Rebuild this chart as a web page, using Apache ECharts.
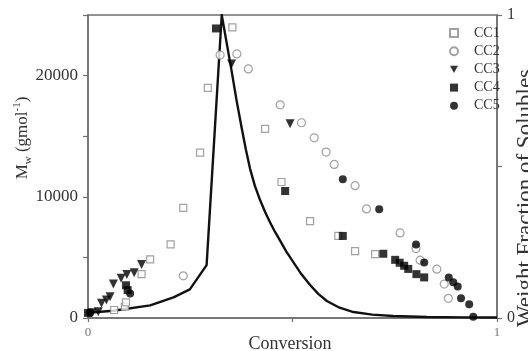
<!DOCTYPE html>
<html>
<head>
<meta charset="utf-8">
<script src="https://cdn.jsdelivr.net/npm/echarts@6/dist/echarts.min.js"></script>
<style>
html,body{margin:0;padding:0;background:#fff;}
#chart{width:528px;height:351px;}
</style>
</head>
<body>
<div id="chart"></div>
<script>
// ---- data ----
const seriesNames = ['CC1', 'CC2', 'CC3', 'CC4', 'CC5'];

const cc1X = [0.064, 0.090, 0.093, 0.131, 0.152, 0.202, 0.233, 0.274, 0.293, 0.353, 0.433, 0.473, 0.543, 0.612, 0.653, 0.702];
const cc1Y = [660, 930, 1290, 3620, 4830, 6070, 9080, 13640, 18990, 23980, 15610, 11220, 8000, 6770, 5510, 5270];

const cc2X = [0.233, 0.323, 0.364, 0.392, 0.470, 0.522, 0.553, 0.582, 0.602, 0.653, 0.681, 0.763, 0.802, 0.812, 0.853, 0.871, 0.881];
const cc2Y = [3480, 21700, 21790, 20550, 17590, 16110, 14870, 13690, 12670, 10920, 9000, 7020, 5730, 4770, 4030, 2800, 1620];

const cc3X = [0.010, 0.025, 0.033, 0.045, 0.054, 0.062, 0.081, 0.095, 0.113, 0.131, 0.351, 0.494];
const cc3Y = [430, 520, 1210, 1480, 1750, 2800, 3270, 3580, 3730, 4420, 20960, 16020];

const cc4X = [0.000, 0.093, 0.097, 0.313, 0.482, 0.623, 0.722, 0.751, 0.762, 0.773, 0.783, 0.803, 0.822];
const cc4Y = [420, 2700, 2300, 23890, 10480, 6770, 5300, 4800, 4560, 4310, 4050, 3620, 3350];

const cc5X = [0.005, 0.103, 0.623, 0.712, 0.802, 0.822, 0.882, 0.893, 0.904, 0.912, 0.932, 0.942];
const cc5Y = [430, 2030, 11440, 8970, 6060, 4580, 3350, 2950, 2600, 1620, 1130, 110];

// theory curve
const curveX = [0, 0.062, 0.152, 0.209, 0.249, 0.290, 0.327, 0.339, 0.351, 0.363, 0.376, 0.386, 0.396, 0.408, 0.421, 0.433, 0.445, 0.457, 0.469, 0.485, 0.502, 0.522, 0.543, 0.563, 0.584, 0.615, 0.649, 0.695, 0.746, 0.829, 0.920, 1.0];
const curveY = [436, 600, 1045, 1700, 2360, 4360, 25000, 22700, 20410, 18000, 15640, 13900, 12350, 10900, 9710, 8750, 7900, 7120, 6420, 5480, 4610, 3600, 2720, 1990, 1400, 850, 490, 280, 165, 80, 55, 40];

const xTickLabels = {0: '0', 1: '1'};
const yTickLabels = {0: '0', 10000: '10000', 20000: '20000'};
const y2TickLabels = {0: '0', 1: '1'};

// ---- build ----
function pairs(xs, ys) { return xs.map((x, i) => [x, ys[i]]); }

const FONT = 'Liberation Serif';
const AX = '#6f6f6f';

const openStyle = { color: '#ffffff', borderColor: '#8a8a8a', borderWidth: 1.2 };
const fillStyle = { color: '#000000' };

const chart = echarts.init(document.getElementById('chart'), null, { renderer: 'canvas' });

chart.setOption({
  animation: false,
  backgroundColor: '#ffffff',
  textStyle: { fontFamily: FONT },
  grid: { left: 88, right: 31, top: 15, bottom: 33, show: true, borderColor: AX, borderWidth: 1.5, backgroundColor: 'transparent' },
  legend: {
    orient: 'vertical',
    left: 444,
    top: 20,
    itemWidth: 8,
    itemHeight: 8,
    itemGap: 2.2,
    textStyle: { fontFamily: FONT, fontSize: 14, color: '#333', lineHeight: 16, padding: [0, 0, 0, 11] },
    data: seriesNames.map(n => n === 'CC3' ? { name: n, icon: 'path://M0,0L10,0L5,9Z' } : { name: n })
  },
  xAxis: {
    type: 'value', min: 0, max: 1, interval: 0.5,
    axisLine: { lineStyle: { color: AX, width: 1.5 } },
    axisTick: { length: 4, lineStyle: { color: AX, width: 1.2 } },
    splitLine: { show: false },
    axisLabel: { fontFamily: FONT, fontSize: 13, color: '#777', margin: 8,
      formatter: v => (xTickLabels[v] !== undefined ? xTickLabels[v] : '') }
  },
  yAxis: [{
    type: 'value', min: 0, max: 25000, interval: 5000,
    axisLine: { show: true, lineStyle: { color: AX, width: 1.5 } },
    axisTick: { show: true, length: 5, lineStyle: { color: AX, width: 1.2 } },
    splitLine: { show: false },
    axisLabel: { fontFamily: FONT, fontSize: 17, color: '#333', margin: 10,
      formatter: v => (yTickLabels[v] !== undefined ? yTickLabels[v] : '') }
  }, {
    type: 'value', min: 0, max: 1, interval: 0.5, position: 'right',
    axisLine: { show: true, lineStyle: { color: AX, width: 1.5 } },
    axisTick: { show: true, length: 5, lineStyle: { color: AX, width: 1.2 } },
    splitLine: { show: false },
    axisLabel: { fontFamily: FONT, fontSize: 16, color: '#333', margin: 10,
      formatter: v => (y2TickLabels[v] !== undefined ? y2TickLabels[v] : '') }
  }],
  graphic: [
    {
      type: 'text', x: 23, y: 138, rotation: Math.PI / 2,
      style: {
        text: '{m|M}{sub|w}{m| (gmol}{sup|-1}{m|)}',
        textAlign: 'center', textVerticalAlign: 'middle',
        fill: '#333',
        rich: {
          m: { fontFamily: FONT, fontSize: 17, lineHeight: 22, verticalAlign: 'middle', fill: '#333' },
          sub: { fontFamily: FONT, fontSize: 11, lineHeight: 22, verticalAlign: 'bottom', fill: '#333' },
          sup: { fontFamily: FONT, fontSize: 11, lineHeight: 22, verticalAlign: 'top', fill: '#333' }
        }
      }
    },
    {
      type: 'text', x: 526, y: 198, rotation: Math.PI / 2,
      style: { text: 'Weight Fraction of Solubles', font: '23px "Liberation Serif"', fill: '#333',
        textAlign: 'center', textVerticalAlign: 'middle' }
    },
    {
      type: 'text', x: 290, y: 344,
      style: { text: 'Conversion', font: '18px "Liberation Serif"', fill: '#333',
        textAlign: 'center', textVerticalAlign: 'middle' }
    }
  ],
  series: [
    { name: 'Theory', type: 'line', data: pairs(curveX, curveY), showSymbol: false, symbol: 'none',
      lineStyle: { color: '#111', width: 2.4, join: 'round' }, z: 1 },
    { name: 'CC1', type: 'scatter', symbol: 'rect', symbolSize: 7, data: pairs(cc1X, cc1Y), itemStyle: openStyle, z: 3 },
    { name: 'CC2', type: 'scatter', symbol: 'circle', symbolSize: 8, data: pairs(cc2X, cc2Y), itemStyle: openStyle, z: 3 },
    { name: 'CC3', type: 'scatter', symbol: 'triangle', symbolRotate: 180, symbolSize: 9, data: pairs(cc3X, cc3Y), itemStyle: fillStyle, z: 4 },
    { name: 'CC4', type: 'scatter', symbol: 'rect', symbolSize: 8, data: pairs(cc4X, cc4Y), itemStyle: fillStyle, z: 4 },
    { name: 'CC5', type: 'scatter', symbol: 'circle', symbolSize: 8, data: pairs(cc5X, cc5Y), itemStyle: fillStyle, z: 4 }
  ]
});
</script>
</body>
</html>
